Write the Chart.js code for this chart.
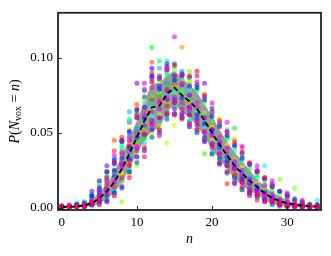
<!DOCTYPE html>
<html>
<head>
<meta charset="utf-8">
<script src="https://cdn.jsdelivr.net/npm/chart.js@4.4.1/dist/chart.umd.min.js"></script>
<style>
html, body { margin: 0; padding: 0; background: #fff; }
#wrap { width: 331px; height: 256px; }
</style>
</head>
<body>
<div id="wrap"><canvas id="chartPvox" width="331" height="256"></canvas></div>
<script>
// valores
const nValues = [0,1,2,3,4,5,6,7,8,9,10,11,12,13,14,15,16,17,18,19,20,21,22,23,24,25,26,27,28,29,30,31,32,33,34];
const xTicks = [0, 10, 20, 30];
const yTicks = [0, 0.05, 0.10];

const meanValues = [0.0005,0.0006,0.0008,0.0015,0.003,0.0063,0.011,0.017,0.026,0.036,0.047,0.058,0.067,0.068,0.076,0.080,0.075,0.071,0.066,0.058,0.050,0.042,0.035,0.028,0.023,0.018,0.014,0.0095,0.0065,0.0045,0.003,0.002,0.0015,0.001,0.0009];
const stdValues = [0.0005,0.0005,0.0008,0.001,0.002,0.004,0.005,0.007,0.009,0.010,0.011,0.013,0.016,0.015,0.012,0.0115,0.011,0.011,0.011,0.011,0.011,0.010,0.009,0.009,0.008,0.007,0.005,0.0045,0.004,0.003,0.002,0.0015,0.001,0.001,0.001];

const serie00 = [0.001,0.001,0.001,0.002,0.004,0.008,0.013,0.024,0.036,0.041,0.052,0.061,0.072,0.066,0.079,0.083,0.069,0.074,0.091,0.061,0.052,0.044,0.031,0.025,0.019,0.017,0.012,0.008,0.004,0.003,0.002,0.001,0.001,0.001,0.000];
const serie01 = [0.000,0.001,0.002,0.001,0.002,0.004,0.015,0.045,0.019,0.031,0.069,0.064,0.097,0.074,0.083,0.078,0.085,0.066,0.063,0.054,0.048,0.039,0.037,0.030,0.040,0.021,0.010,0.013,0.007,0.006,0.002,0.001,0.002,0.000,0.001];
const serie02 = [0.001,0.000,0.001,0.002,0.005,0.010,0.009,0.022,0.030,0.044,0.045,0.052,0.062,0.071,0.070,0.081,0.107,0.069,0.058,0.061,0.055,0.047,0.034,0.024,0.021,0.016,0.015,0.010,0.008,0.004,0.003,0.002,0.001,0.001,0.000];
const serie03 = [0.000,0.001,0.001,0.001,0.003,0.006,0.012,0.019,0.028,0.030,0.041,0.071,0.066,0.077,0.071,0.055,0.084,0.074,0.088,0.058,0.047,0.036,0.042,0.032,0.027,0.012,0.011,0.007,0.011,0.005,0.004,0.002,0.001,0.002,0.001];
const serie04 = [0.001,0.001,0.000,0.002,0.002,0.007,0.008,0.015,0.023,0.027,0.036,0.056,0.065,0.062,0.043,0.074,0.078,0.086,0.068,0.063,0.053,0.060,0.037,0.045,0.024,0.019,0.016,0.012,0.009,0.003,0.004,0.002,0.001,0.001,0.000];
const serie05 = [0.000,0.001,0.001,0.001,0.004,0.005,0.010,0.018,0.004,0.034,0.048,0.060,0.070,0.084,0.078,0.076,0.072,0.091,0.063,0.056,0.044,0.037,0.046,0.027,0.018,0.014,0.009,0.006,0.004,0.019,0.003,0.013,0.002,0.000,0.001];
const serie06 = [0.001,0.000,0.002,0.002,0.004,0.006,0.014,0.022,0.032,0.037,0.044,0.054,0.074,0.069,0.068,0.086,0.071,0.067,0.061,0.036,0.057,0.043,0.036,0.029,0.023,0.017,0.013,0.009,0.006,0.004,0.002,0.001,0.001,0.001,0.001];
const serie07 = [0.000,0.001,0.001,0.002,0.003,0.009,0.021,0.016,0.031,0.048,0.050,0.047,0.107,0.075,0.082,0.079,0.070,0.072,0.065,0.059,0.048,0.041,0.033,0.053,0.020,0.016,0.011,0.010,0.005,0.003,0.002,0.002,0.001,0.000,0.000];
const serie08 = [0.001,0.001,0.001,0.001,0.005,0.008,0.012,0.025,0.027,0.039,0.046,0.058,0.064,0.098,0.088,0.068,0.079,0.064,0.070,0.062,0.051,0.046,0.029,0.031,0.022,0.018,0.014,0.007,0.008,0.005,0.002,0.001,0.001,0.001,0.000];
const serie09 = [0.000,0.001,0.003,0.004,0.006,0.004,0.018,0.020,0.041,0.035,0.052,0.062,0.067,0.066,0.098,0.084,0.076,0.058,0.060,0.055,0.044,0.040,0.032,0.026,0.024,0.015,0.012,0.009,0.005,0.004,0.003,0.002,0.002,0.001,0.001];
const serie10 = [0.001,0.001,0.001,0.002,0.003,0.007,0.011,0.016,0.038,0.058,0.039,0.070,0.061,0.080,0.075,0.077,0.068,0.079,0.064,0.053,0.049,0.038,0.035,0.029,0.025,0.021,0.015,0.028,0.007,0.005,0.003,0.002,0.001,0.001,0.005];
const serie11 = [0.000,0.001,0.001,0.001,0.002,0.005,0.009,0.023,0.034,0.064,0.053,0.059,0.070,0.093,0.083,0.073,0.091,0.075,0.060,0.057,0.050,0.037,0.035,0.030,0.023,0.020,0.014,0.011,0.006,0.004,0.002,0.002,0.001,0.000,0.001];
const serie12 = [0.001,0.000,0.001,0.003,0.002,0.012,0.005,0.029,0.013,0.050,0.030,0.074,0.047,0.087,0.059,0.096,0.060,0.087,0.050,0.074,0.036,0.056,0.023,0.041,0.012,0.029,0.007,0.019,0.003,0.011,0.001,0.006,0.001,0.002,0.000];
const serie13 = [0.000,0.001,0.002,0.001,0.008,0.004,0.024,0.010,0.044,0.024,0.065,0.038,0.088,0.050,0.094,0.063,0.088,0.054,0.080,0.044,0.061,0.029,0.048,0.016,0.033,0.010,0.024,0.005,0.014,0.002,0.008,0.001,0.003,0.001,0.001];
const serie14 = [0.001,0.001,0.001,0.002,0.003,0.018,0.012,0.032,0.029,0.040,0.047,0.060,0.093,0.079,0.072,0.085,0.073,0.067,0.062,0.056,0.052,0.042,0.031,0.027,0.019,0.016,0.012,0.010,0.007,0.003,0.002,0.002,0.001,0.000,0.001];
const serie15 = [0.000,0.001,0.001,0.001,0.011,0.008,0.028,0.021,0.033,0.033,0.083,0.055,0.058,0.086,0.078,0.072,0.082,0.075,0.059,0.083,0.052,0.040,0.034,0.026,0.021,0.019,0.012,0.009,0.006,0.004,0.004,0.002,0.001,0.001,0.000];
const serie16 = [0.001,0.001,0.001,0.002,0.003,0.005,0.011,0.017,0.028,0.045,0.040,0.083,0.064,0.071,0.092,0.074,0.062,0.065,0.067,0.060,0.048,0.044,0.040,0.028,0.025,0.013,0.011,0.015,0.009,0.005,0.003,0.002,0.001,0.001,0.001];
const serie17 = [0.000,0.002,0.001,0.002,0.004,0.007,0.013,0.018,0.027,0.037,0.050,0.062,0.080,0.066,0.074,0.114,0.070,0.067,0.070,0.060,0.049,0.047,0.037,0.031,0.022,0.017,0.015,0.008,0.006,0.005,0.003,0.001,0.001,0.001,0.001];
const serie18 = [0.001,0.001,0.001,0.001,0.005,0.002,0.016,0.008,0.037,0.020,0.062,0.034,0.086,0.048,0.092,0.062,0.089,0.056,0.084,0.045,0.064,0.030,0.050,0.017,0.036,0.009,0.024,0.004,0.015,0.002,0.007,0.001,0.003,0.001,0.001];
const serie19 = [0.001,0.001,0.001,0.001,0.003,0.006,0.020,0.030,0.045,0.028,0.060,0.040,0.084,0.052,0.063,0.095,0.060,0.088,0.052,0.075,0.040,0.058,0.024,0.044,0.014,0.030,0.008,0.020,0.004,0.003,0.001,0.002,0.001,0.001,0.001];
const serie20 = [0.001,0.001,0.002,0.003,0.006,0.014,0.024,0.038,0.047,0.057,0.066,0.078,0.090,0.088,0.064,0.062,0.059,0.057,0.052,0.046,0.036,0.030,0.016,0.021,0.012,0.008,0.005,0.004,0.002,0.001,0.001,0.001,0.000,0.000,0.000];
const serie21 = [0.000,0.000,0.000,0.001,0.001,0.002,0.004,0.008,0.016,0.022,0.031,0.040,0.050,0.055,0.063,0.068,0.088,0.084,0.082,0.076,0.068,0.058,0.052,0.046,0.038,0.030,0.024,0.018,0.014,0.010,0.007,0.004,0.003,0.002,0.001];
const serie22 = [0.001,0.001,0.001,0.003,0.005,0.012,0.006,0.030,0.020,0.052,0.028,0.073,0.047,0.086,0.060,0.092,0.061,0.084,0.050,0.070,0.035,0.055,0.024,0.041,0.012,0.028,0.007,0.018,0.003,0.010,0.001,0.006,0.001,0.003,0.001];
const serie23 = [0.000,0.001,0.002,0.001,0.007,0.003,0.019,0.010,0.040,0.024,0.062,0.046,0.080,0.052,0.091,0.066,0.090,0.057,0.078,0.046,0.063,0.032,0.048,0.021,0.034,0.012,0.022,0.006,0.014,0.003,0.008,0.001,0.004,0.001,0.002];
const serie24 = [0.001,0.000,0.002,0.004,0.009,0.016,0.021,0.033,0.044,0.059,0.063,0.078,0.084,0.078,0.090,0.094,0.085,0.082,0.079,0.071,0.064,0.055,0.046,0.038,0.031,0.026,0.020,0.015,0.011,0.007,0.005,0.003,0.002,0.001,0.001];
const serie25 = [0.001,0.001,0.001,0.001,0.002,0.003,0.006,0.011,0.018,0.026,0.034,0.043,0.053,0.058,0.064,0.067,0.061,0.058,0.051,0.045,0.037,0.030,0.024,0.018,0.013,0.010,0.007,0.004,0.002,0.001,0.001,0.000,0.000,0.000,0.000];
const serie26 = [0.000,0.001,0.001,0.003,0.008,0.013,0.008,0.030,0.045,0.032,0.060,0.049,0.087,0.060,0.096,0.070,0.089,0.062,0.082,0.047,0.066,0.033,0.051,0.020,0.037,0.011,0.025,0.006,0.016,0.003,0.009,0.002,0.004,0.001,0.002];
const serie27 = [0.001,0.001,0.002,0.001,0.002,0.010,0.004,0.025,0.014,0.051,0.034,0.067,0.052,0.081,0.062,0.088,0.063,0.081,0.055,0.072,0.042,0.054,0.028,0.042,0.017,0.029,0.009,0.020,0.005,0.011,0.002,0.005,0.001,0.002,0.001];
const serie28 = [0.001,0.001,0.001,0.002,0.004,0.011,0.018,0.035,0.030,0.047,0.041,0.079,0.055,0.070,0.093,0.066,0.083,0.055,0.088,0.050,0.070,0.036,0.057,0.027,0.041,0.018,0.028,0.009,0.018,0.005,0.010,0.002,0.005,0.001,0.002];
const serie29 = [0.001,0.001,0.001,0.002,0.003,0.005,0.009,0.014,0.020,0.029,0.038,0.049,0.056,0.060,0.068,0.070,0.066,0.062,0.057,0.051,0.043,0.036,0.028,0.022,0.017,0.012,0.009,0.006,0.004,0.002,0.001,0.001,0.001,0.001,0.001];

const todasSeries = [serie00, serie01, serie02, serie03, serie04, serie05, serie06, serie07, serie08, serie09,
                     serie10, serie11, serie12, serie13, serie14, serie15, serie16, serie17, serie18, serie19,
                     serie20, serie21, serie22, serie23, serie24, serie25, serie26, serie27, serie28, serie29];
// matiz (graus) de cada série, colormap hsv
const matizes = [0,18,36,54,72,90,108,126,144,162,180,198,216,234,252,270,288,306,324,342,
                 9,45,81,117,153,189,225,261,297,333];

const fonteSerif = '"Liberation Serif", "DejaVu Serif", serif';

function pontos(valores) {
    return nValues.map((n, i) => ({ x: n, y: valores[i] }));
}

// moldura, ticks para dentro e rótulo do eixo y
const molduraPlugin = {
    id: 'moldura',
    afterDatasetsDraw(chart) {
        const { ctx, chartArea: a, scales } = chart;
        ctx.save();
        ctx.strokeStyle = '#222';
        ctx.lineWidth = 1;
        xTicks.forEach(v => {
            const px = Math.round(scales.x.getPixelForValue(v)) + 0.5;
            ctx.beginPath();
            ctx.moveTo(px, a.bottom);
            ctx.lineTo(px, a.bottom - 4);
            ctx.stroke();
        });
        yTicks.forEach(v => {
            const py = Math.round(scales.y.getPixelForValue(v)) + 0.5;
            ctx.beginPath();
            ctx.moveTo(a.left, py);
            ctx.lineTo(a.left + 4, py);
            ctx.stroke();
        });
        ctx.lineWidth = 1.8;
        ctx.strokeRect(a.left, a.top, a.right - a.left, a.bottom - a.top);

        // P(N_vox = n)
        const partes = [
            ['P', 'italic', 14, 0],
            ['(', 'normal', 14, 0],
            ['N', 'italic', 14, 0],
            ['vox', 'normal', 10, 3.5],
            [' = ', 'normal', 14, 0],
            ['n', 'italic', 14, 0],
            [')', 'normal', 14, 0]
        ];
        let total = 0;
        const larguras = partes.map(p => {
            ctx.font = `${p[1]} ${p[2]}px ${fonteSerif}`;
            const w = ctx.measureText(p[0]).width;
            total += w;
            return w;
        });
        ctx.translate(15, (a.top + a.bottom) / 2);
        ctx.rotate(-Math.PI / 2);
        ctx.fillStyle = '#000';
        ctx.textBaseline = 'middle';
        ctx.textAlign = 'left';
        let pos = -total / 2;
        partes.forEach((p, i) => {
            ctx.font = `${p[1]} ${p[2]}px ${fonteSerif}`;
            ctx.fillText(p[0], pos, p[3]);
            pos += larguras[i];
        });
        ctx.restore();
    }
};

function criarGraficoPvox() {
    const canvas = document.getElementById('chartPvox');
    if (!canvas) return;

    const datasets = [];
    datasets.push({
        type: 'line',
        label: 'média',
        data: pontos(meanValues),
        borderColor: '#000',
        borderWidth: 1.8,
        borderDash: [5, 3],
        pointRadius: 0,
        fill: false,
        order: 0
    });
    // índice menor = desenhado por cima; matiz maior fica por cima
    const indices = todasSeries.map((s, i) => i).sort((a, b) => matizes[b] - matizes[a]);
    indices.forEach(i => {
        datasets.push({
            type: 'scatter',
            label: 'serie ' + i,
            data: pontos(todasSeries[i]),
            backgroundColor: `hsla(${matizes[i]}, 100%, 50%, 0.6)`,
            borderWidth: 0,
            pointRadius: 2.5,
            order: 1
        });
    });
    // banda cinza por baixo dos pontos
    datasets.push({
        type: 'line',
        label: 'banda sup',
        data: pontos(meanValues.map((m, i) => m + stdValues[i])),
        borderColor: 'rgba(0,0,0,0)',
        borderWidth: 0,
        backgroundColor: '#9b9b9b',
        pointRadius: 0,
        fill: '+1',
        order: 3
    });
    datasets.push({
        type: 'line',
        label: 'banda inf',
        data: pontos(meanValues.map((m, i) => m - stdValues[i])),
        borderColor: 'rgba(0,0,0,0)',
        borderWidth: 0,
        pointRadius: 0,
        fill: false,
        order: 3
    });

    try {
        new Chart(canvas, {
            type: 'scatter',
            data: { datasets: datasets },
            options: {
                responsive: false,
                animation: false,
                layout: { padding: { top: 10, right: 10, left: 0, bottom: 0 } },
                plugins: {
                    legend: { display: false },
                    tooltip: { enabled: false },
                    filler: { drawTime: 'beforeDatasetsDraw' }
                },
                scales: {
                    x: {
                        type: 'linear',
                        min: -0.5,
                        max: 34.5,
                        afterBuildTicks: function(scale) {
                            scale.ticks = xTicks.map(v => ({ value: v }));
                        },
                        afterFit: function(scale) {
                            scale.height = 46;
                        },
                        grid: { display: false, drawTicks: false },
                        border: { display: false },
                        ticks: {
                            padding: 5,
                            color: '#000',
                            font: { family: fonteSerif, size: 13 },
                            maxRotation: 0,
                            callback: function(value) { return value.toFixed(0); }
                        },
                        title: {
                            display: true,
                            text: 'n',
                            color: '#000',
                            font: { family: fonteSerif, size: 14, style: 'italic' },
                            padding: { top: 0, bottom: 8 }
                        }
                    },
                    y: {
                        type: 'linear',
                        min: -0.0015,
                        max: 0.130,
                        afterBuildTicks: function(scale) {
                            scale.ticks = yTicks.map(v => ({ value: v }));
                        },
                        afterFit: function(scale) {
                            scale.width = 58;
                        },
                        grid: { display: false, drawTicks: false },
                        border: { display: false },
                        ticks: {
                            padding: 5,
                            color: '#000',
                            font: { family: fonteSerif, size: 13 },
                            callback: function(value) { return value.toFixed(2); }
                        },
                        title: { display: false }
                    }
                }
            },
            plugins: [molduraPlugin]
        });
    } catch (error) {
        console.error('Erro no gráfico:', error);
    }
}

criarGraficoPvox();
</script>
</body>
</html>
